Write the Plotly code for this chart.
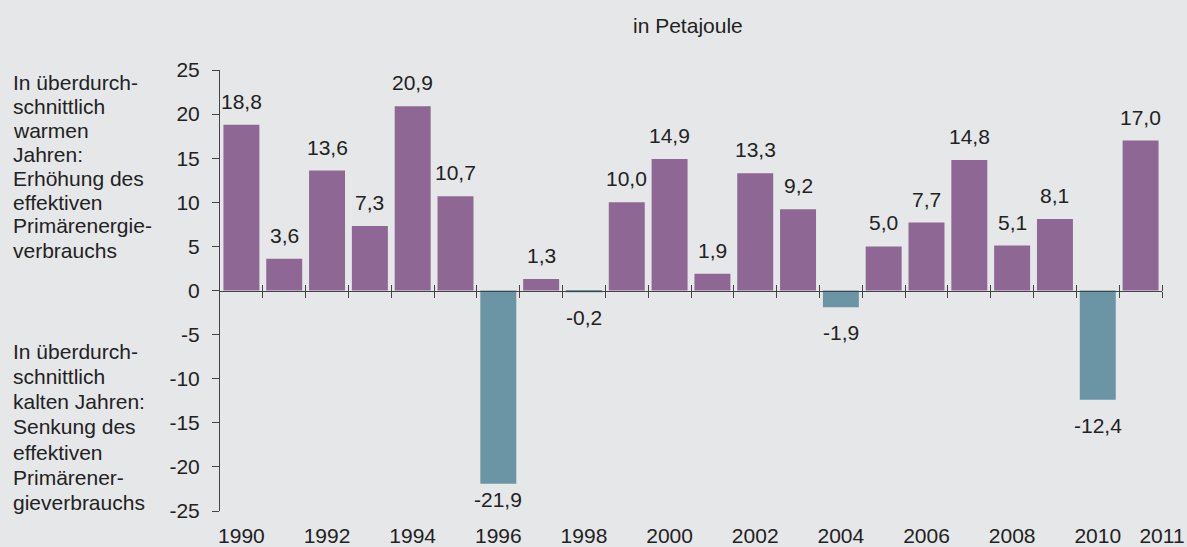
import plotly.graph_objects as go

years = list(range(1990, 2012))
values = [18.8, 3.6, 13.6, 7.3, 20.9, 10.7, -21.9, 1.3, -0.2, 10.0, 14.9,
          1.9, 13.3, 9.2, -1.9, 5.0, 7.7, 14.8, 5.1, 8.1, -12.4, 17.0]
y_ticks = [-25, -20, -15, -10, -5, 0, 5, 10, 15, 20, 25]
title_text = "in Petajoule"
warm_lines = ["In überdurch-", "schnittlich", "warmen", "Jahren:", "Erhöhung des",
              "effektiven", "Primärenergie-", "verbrauchs"]
cold_lines = ["In überdurch-", "schnittlich", "kalten Jahren:", "Senkung des",
              "effektiven", "Primärener-", "gieverbrauchs"]

PURPLE = "#8f6795"
TEAL = "#6b95a4"
BG = "#e6e7e9"
TXT = "#222222"
AX = "#444444"
FONT = "Liberation Sans, Arial, sans-serif"
FS = 21

W, H = 1187, 547
ML, MR, MT, MB = 220, 25, 70, 36
PLOT_H = H - MT - MB
Y_MIN, Y_MAX = y_ticks[0], y_ticks[-1]
PX_PER_UNIT = PLOT_H / (Y_MAX - Y_MIN)


def py(px):
    """pixel y (from top) -> paper y"""
    return (H - MB - px) / PLOT_H


def px_x(px):
    return (px - ML) / (W - ML - MR)


colors = [PURPLE if v >= 0 else TEAL for v in values]
labels = [f"{v:.1f}".replace(".", ",") for v in values]

label_years = [y for y in years if y % 2 == 0]
tickvals = label_years + [years[-1] + 0.5]
ticktext = [str(y) for y in label_years] + [str(years[-1])]
boundaries = [y + 0.5 for y in years]

fig = go.Figure()
fig.add_trace(go.Bar(
    x=years, y=values, marker=dict(color=colors, line=dict(width=0)),
    width=0.84, hoverinfo="x+y", showlegend=False,
))
for ax in ["x2", "x3"]:
    fig.add_trace(go.Scatter(x=years, y=[0] * len(years), xaxis=ax, yaxis="y",
                             mode="markers", marker=dict(opacity=0),
                             hoverinfo="skip", showlegend=False))

# value labels
for yr, v, lab in zip(years, values, labels):
    if v >= 0:
        fig.add_annotation(x=yr, y=v, xref="x", yref="y", text=lab, showarrow=False,
                           xanchor="center", yanchor="bottom", yshift=10,
                           font=dict(size=FS, color=TXT))
    else:
        room = (v - Y_MIN) * PX_PER_UNIT - 26
        shift = max(2, min(12, room))
        fig.add_annotation(x=yr, y=v, xref="x", yref="y", text=lab, showarrow=False,
                           xanchor="center", yanchor="top", yshift=-shift,
                           font=dict(size=FS, color=TXT))

xr = [years[0] - 0.5, years[-1] + 0.5]
fig.update_layout(
    width=W, height=H, autosize=False,
    paper_bgcolor=BG, plot_bgcolor=BG,
    margin=dict(l=ML, r=MR, t=MT, b=MB, pad=0),
    font=dict(family=FONT, size=FS, color=TXT),
    xaxis=dict(range=xr, tickvals=tickvals, ticktext=ticktext, showline=False,
               ticks="", showgrid=False, zeroline=False, ticklabelstandoff=10,
               automargin=False, tickfont=dict(size=FS, color=TXT)),
    xaxis2=dict(range=xr, overlaying="x", anchor="free", position=0.5, side="bottom",
                tickvals=boundaries, showticklabels=False, ticks="outside", ticklen=6,
                tickcolor=AX, tickwidth=1, showline=True, linecolor=AX,
                linewidth=1, showgrid=False, zeroline=False, automargin=False),
    xaxis3=dict(range=xr, overlaying="x", anchor="free", position=0.5, side="top",
                tickvals=boundaries, showticklabels=False, ticks="outside", ticklen=6,
                tickcolor=AX, tickwidth=1, showline=False,
                showgrid=False, zeroline=False, automargin=False),
    yaxis=dict(range=[Y_MIN, Y_MAX], tickvals=y_ticks, ticktext=[str(v) for v in y_ticks],
               showline=True, linecolor=AX, linewidth=1, ticks="outside",
               ticklen=7, tickcolor=AX, showgrid=False, zeroline=False,
               ticklabelstandoff=8, automargin=False,
               tickfont=dict(size=FS, color=TXT)),
)

fig.add_annotation(text=title_text, xref="paper", yref="paper", x=0.497, y=py(25),
                   xanchor="center", yanchor="middle", showarrow=False,
                   font=dict(size=FS, color=TXT))

for i, line in enumerate(warm_lines):
    fig.add_annotation(text=line, xref="paper", yref="paper", x=px_x(11),
                       y=py(82 + 24 * i), xanchor="left", yanchor="middle",
                       showarrow=False, font=dict(size=FS, color=TXT))
for i, line in enumerate(cold_lines):
    fig.add_annotation(text=line, xref="paper", yref="paper", x=px_x(11),
                       y=py(351 + 25.3 * i), xanchor="left", yanchor="middle",
                       showarrow=False, font=dict(size=FS, color=TXT))

fig.write_html(
    "out.html",
    config={"displayModeBar": False},
    post_script=("document.body.style.margin='0';"
                 "document.body.style.overflow='hidden';"
                 "document.documentElement.style.background='" + BG + "';"),
)
